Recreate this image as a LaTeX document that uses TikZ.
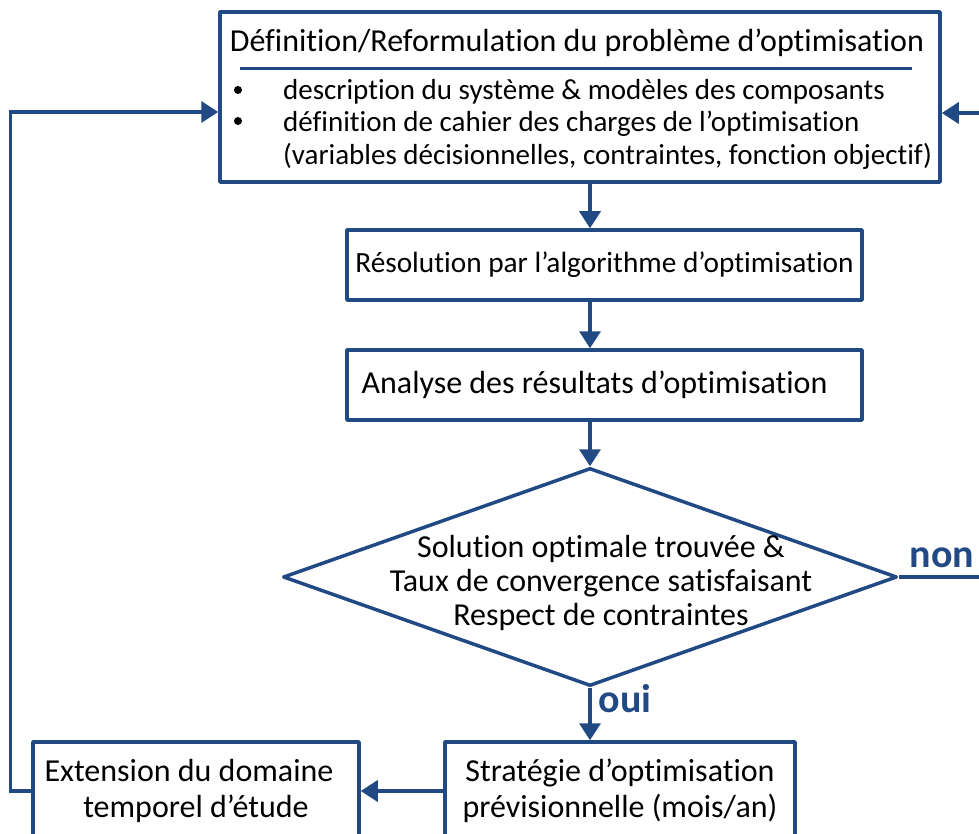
\documentclass[tikz,border=0pt]{standalone}
\usepackage{fontspec}
\setmainfont{Carlito}[Ligatures=NoCommon]
\usetikzlibrary{shapes.geometric,arrows.meta,calc}
\definecolor{fblue}{RGB}{33,74,133}
\tikzset{
  fbox/.style={draw=fblue, line width=3.5pt, line join=round, fill=white, inner sep=0pt, align=center},
  conn/.style={draw=fblue, line width=3.5pt, -{Triangle[length=17pt,width=21pt]}},
  lbl/.style={text=fblue, font=\fontsize{40}{42}\selectfont\bfseries},
  txt/.style={font=\fontsize{29.3}{34}\selectfont, inner sep=0pt, align=center},
  bultxt/.style={font=\fontsize{29}{34}\selectfont, inner sep=0pt, anchor=base west, align=left},
  bigtxt/.style={font=\fontsize{32}{36}\selectfont, inner sep=0pt, align=center},
}
\begin{document}
\begin{tikzpicture}[x=1pt,y=-1pt]
\useasboundingbox (0,0) rectangle (979,834);
% top box
\node[fbox, minimum width=720pt, minimum height=170pt] (top) at (580,97) {};
\node[bigtxt, anchor=base] (title) at (577,52) {Définition/Reformulation du problème d’optimisation};
\draw[fblue, line width=3pt] (240,69) -- (912,69);
\node[bultxt] (l1) at (283,100) {description du système \& modèles des composants};
\node[bultxt] (l2) at (283,132) {définition de cahier des charges de l’optimisation};
\node[bultxt] (l3) at (283,165) {(variables décisionnelles, contraintes, fonction objectif)};
\fill (238,90) circle (4pt);
\fill (238,121) circle (4pt);
% box 2, 3
\node[fbox, txt, minimum width=515pt, minimum height=70pt] (b2) at (604.5,265) {Résolution par l’algorithme d’optimisation};
\node[fbox, bigtxt, minimum width=515pt, minimum height=70pt] (b3) at (604.5,385) {\hspace*{-20pt}Analyse des résultats d’optimisation};
% decision
\node[draw=fblue, line width=3.5pt, line join=round, diamond, aspect=2.82, minimum width=614pt, minimum height=218pt, inner sep=0pt] (dec) at (590,577) {};
\node[bigtxt, font=\fontsize{32}{34}\selectfont] (dect) at (601,583) {Solution optimale trouvée \&\\Taux de convergence satisfaisant\\Respect de contraintes};
% bottom boxes
\node[fbox, bigtxt, minimum width=350pt, minimum height=98pt] (b5) at (620,791) {Stratégie d’optimisation\\prévisionnelle (mois/an)};
\node[fbox, bigtxt, minimum width=326pt, minimum height=98pt] (b4) at (196,791) {\hspace*{-14pt}Extension du domaine\\temporel d’étude};
% connectors
\draw[conn] (top.south -| dec.north) -- (b2.north -| dec.north);
\draw[conn] (b2.south -| dec.north) -- (b3.north -| dec.north);
\draw[conn] (b3.south -| dec.north) -- (dec.north);
\draw[conn] (dec.south) -- (b5.north -| dec.south);
\draw[conn] (b5.west) -- (b4.east);
\draw[conn] (b4.west) -- ++(-21,0) |- ([yshift=-15pt]top.west);
\draw[conn] (dec.east) -- ++(120,0) |- ([yshift=-16pt]top.east);
\node[lbl] (non) at (942,558) {non};
\node[lbl] (oui) at (625,699) {oui};
\end{tikzpicture}
\end{document}
